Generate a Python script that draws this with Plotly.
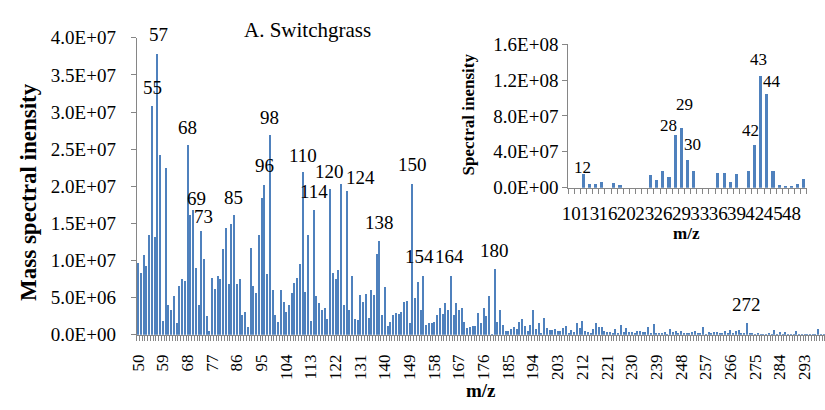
import plotly.graph_objects as go

# ---- Main spectrum (m/z 50-300) ----
mz_main = list(range(50, 301))
intensity_main_millions = [
    9.7, 8.3, 10.8, 9.3, 13.4, 30.8, 13.2, 37.8, 24.2, 1.9,      # 50-59
    22.5, 4.1, 3.4, 5.3, 1.6, 6.6, 7.6, 7.3, 25.6, 16.1,         # 60-69
    16.8, 9.0, 4.1, 14.0, 10.3, 2.6, 0.6, 7.7, 6.2, 8.0,         # 70-79
    7.5, 11.6, 14.4, 6.8, 14.9, 16.1, 6.8, 7.6, 2.7, 3.1,        # 80-89
    1.1, 11.7, 6.6, 5.6, 13.4, 18.5, 20.2, 8.2, 26.9, 6.1,       # 90-99
    2.7, 1.7, 6.1, 4.4, 3.1, 4.1, 5.6, 7.0, 7.7, 9.5,            # 100-109
    22.0, 5.8, 13.4, 1.9, 16.9, 5.2, 4.3, 3.4, 3.7, 2.2,         # 110-119
    19.7, 8.3, 7.6, 8.8, 20.4, 4.0, 19.4, 3.4, 8.0, 2.1,         # 120-129
    2.0, 5.4, 4.4, 5.5, 2.3, 6.0, 5.4, 10.9, 12.7, 2.7,          # 130-139
    6.4, 1.2, 1.7, 2.7, 3.0, 2.8, 3.1, 4.5, 4.6, 1.6,            # 140-149
    20.4, 5.0, 7.2, 3.3, 8.0, 1.4, 1.6, 1.6, 1.8, 2.7,           # 150-159
    3.7, 2.8, 4.3, 3.4, 8.0, 2.7, 4.3, 3.4, 3.6, 1.7,            # 160-169
    0.9, 1.1, 1.2, 1.2, 2.9, 1.6, 3.6, 2.6, 5.3, 0.1,            # 170-179
    8.9, 1.8, 3.4, 1.4, 0.55, 0.55, 0.8, 1.1, 0.8, 1.8,          # 180-189
    2.1, 1.2, 0.55, 1.3, 3.3, 0.8, 1.6, 0.3, 2.3, 1.0,           # 190-199
    0.7, 0.7, 0.8, 0.6, 0.6, 0.9, 1.19, 0.17, 0.72, 0.38,        # 200-209
    1.66, 0.9, 1.92, 0.6, 0.38, 0.21, 0.81, 1.66, 1.07, 1.07,    # 210-219
    0.6, 0.38, 0.38, 0.17, 0.77, 0.21, 1.32, 0.38, 0.98, 0.38,   # 220-229
    0.38, 0.17, 0.47, 0.6, 0.38, 0.38, 1.07, 0.17, 1.45, 0.21,   # 230-239
    0.17, 0.17, 0.38, 0.05, 0.77, 0.38, 0.6, 0.17, 0.47, 0.17,   # 240-249
    0.21, 0.17, 0.38, 0.51, 0.17, 0.21, 1.07, 0.05, 0.38, 0.17,  # 250-259
    0.38, 0.38, 0.17, 0.17, 0.47, 0.21, 0.64, 0.17, 0.47, 0.72,  # 260-269
    0.17, 0.3, 1.66, 0.17, 0.3, 0.13, 0.17, 0.13, 0.13, 0.13,    # 270-279
    0.26, 0.13, 0.72, 0.13, 0.43, 0.13, 0.38, 0.13, 0.13, 0.13,  # 280-289
    0.47, 0.13, 0.13, 0.13, 0.13, 0.13, 0.13, 0.13, 0.85, 0.1,   # 290-299
    0.1,                                                          # 300
]
main_tick_labels = [str(v) for v in range(50, 301, 9)]
main_y_ticks = [0, 5e6, 1e7, 1.5e7, 2e7, 2.5e7, 3e7, 3.5e7, 4e7]

# Peak labels on the main spectrum: (text, m/z position, height in millions, pixel lift)
main_peak_labels = [
    ("57", 57.34, 38.5, 14), ("55", 55.1, 33.3, 0), ("68", 68.17, 27.9, 0),
    ("69", 71.17, 18.4, 0), ("73", 73.88, 15.9, 0), ("85", 84.89, 18.45, 0),
    ("96", 96.09, 22.8, 0), ("98", 98.07, 29.3, 0), ("110", 110.0, 24.2, 0),
    ("114", 114.14, 19.3, 0), ("120", 119.92, 22.0, 0), ("124", 131.12, 21.2, 0),
    ("138", 137.98, 15.1, 0), ("150", 150.0, 22.9, 0), ("154", 152.6, 10.5, 0),
    ("164", 163.4, 10.5, 0), ("180", 179.9, 11.3, 0), ("272", 271.8, 4.1, 0),
]

# ---- Inset: low-mass region (m/z 10-50) ----
mz_inset = [10, 11, 12, 13, 14, 15, 16, 17, 18, 20, 21, 22, 23, 24, 25, 26,
            27, 28, 29, 30, 32, 33, 34, 35, 36, 37, 38, 39, 40, 41, 42, 43,
            44, 45, 46, 47, 48, 49, 50]
intensity_inset_millions = [0, 0, 15, 3.5, 3.5, 6.5, 0, 5, 3, 0, 0, 0, 0, 14,
                            8.8, 19, 12, 58.5, 66, 31, 18, 0, 0, 0, 16, 16, 6.7,
                            15, 0, 18, 47, 124.8, 104.7, 18, 2.5, 1.8, 2, 4, 10]
inset_y_ticks = [0, 4e7, 8e7, 1.2e8, 1.6e8]
# (text, category index position, height in millions)
inset_peak_labels = [
    ("12", 1.81, 22.5), ("28", 15.84, 69.4), ("29", 18.48, 92.3),
    ("30", 19.78, 48.2), ("42", 29.24, 63.8), ("43", 30.62, 143.4),
    ("44", 32.83, 118.8),
]

BAR = "#4F81BD"
AXIS = "#868686"
FONT = "'Liberation Serif', 'Times New Roman', 'DejaVu Serif', serif"


def sci(v):
    return f"{v:.1E}"


def text_note(text, x, y, size, **kw):
    return dict(text=text, x=x, y=y, showarrow=False, xanchor="center", yanchor="middle",
                font=dict(size=size, color="black", family=FONT), **kw)


inset_pos = list(range(len(mz_inset)))

fig = go.Figure()
fig.add_trace(go.Bar(
    x=mz_main, y=[v * 1e6 for v in intensity_main_millions],
    marker=dict(color=BAR, line=dict(width=0)), width=0.5,
    xaxis="x", yaxis="y", showlegend=False,
))
fig.add_trace(go.Bar(
    x=inset_pos, y=[v * 1e6 for v in intensity_inset_millions],
    marker=dict(color=BAR, line=dict(width=0)), width=0.5,
    xaxis="x2", yaxis="y2", showlegend=False,
))

annotations = []
for text, xpos, h, lift in main_peak_labels:
    annotations.append(text_note(text, xpos, h * 1e6, 19, xref="x", yref="y", yshift=lift))
for text, xpos, h in inset_peak_labels:
    annotations.append(text_note(text, xpos, h * 1e6, 17, xref="x2", yref="y2"))

annotations += [
    text_note("A. Switchgrass", 302 / 825, 1 - 21.5 / 410, 21, xref="paper", yref="paper"),
    text_note("<b>Mass spectral inensity</b>", 20 / 825, 1 - 192 / 410, 23,
              xref="paper", yref="paper", textangle=-90),
    text_note("<b>m/z</b>", 478 / 825, 1 - 401 / 410, 19, xref="paper", yref="paper"),
    text_note("<b>Spectral inensity</b>", 465 / 825, 1 - 109.5 / 410, 17,
              xref="paper", yref="paper", textangle=-90),
    text_note("<b>m/z</b>", 685 / 825, 1 - 236 / 410, 17, xref="paper", yref="paper"),
]

fig.update_layout(
    width=825, height=410,
    margin=dict(l=0, r=0, t=0, b=0),
    paper_bgcolor="white", plot_bgcolor="rgba(0,0,0,0)",
    font=dict(family=FONT, color="black"),
    bargap=0,
    xaxis=dict(
        domain=[130 / 825, 1.0], range=[49.5, 300.5],
        tickmode="array", tickvals=list(range(50, 301, 9)), ticktext=main_tick_labels,
        tickangle=-90, ticks="", ticklabelstandoff=12,
        tickfont=dict(size=17, family=FONT, color="black"),
        showline=True, linecolor=AXIS, linewidth=1, showgrid=False, zeroline=False,
        minor=dict(ticks="outside", tick0=49.5, dtick=1, ticklen=5, tickcolor=AXIS, showgrid=False),
    ),
    yaxis=dict(
        domain=[67.7 / 410, 380.7 / 410], range=[0, 4e7],
        tickmode="array", tickvals=main_y_ticks, ticktext=[sci(v) for v in main_y_ticks],
        ticks="outside", ticklen=5, tickcolor=AXIS, ticklabelstandoff=11,
        tickfont=dict(size=19, family=FONT, color="black"),
        showline=True, linecolor=AXIS, linewidth=1, showgrid=False, zeroline=False,
    ),
    xaxis2=dict(
        domain=[565.7 / 825, 806.7 / 825], range=[-0.5, len(mz_inset) - 0.5],
        anchor="y2",
        tickmode="array", tickvals=inset_pos[::3], ticktext=[str(mz_inset[i]) for i in inset_pos[::3]],
        ticks="", ticklabelstandoff=8, tickangle=0,
        tickfont=dict(size=19, family=FONT, color="black"),
        showline=True, linecolor=AXIS, linewidth=1, showgrid=False, zeroline=False,
        minor=dict(ticks="outside", tick0=-0.5, dtick=1, ticklen=5, tickcolor=AXIS, showgrid=False),
    ),
    yaxis2=dict(
        domain=[222.7 / 410, 374 / 410], range=[0, 1.6e8], anchor="x2",
        tickmode="array", tickvals=inset_y_ticks, ticktext=[sci(v) for v in inset_y_ticks],
        ticks="outside", ticklen=5, tickcolor=AXIS,
        tickfont=dict(size=19, family=FONT, color="black"),
        showline=True, linecolor=AXIS, linewidth=1, showgrid=False, zeroline=False,
    ),
    annotations=annotations,
)

fig.write_html("out.html")
